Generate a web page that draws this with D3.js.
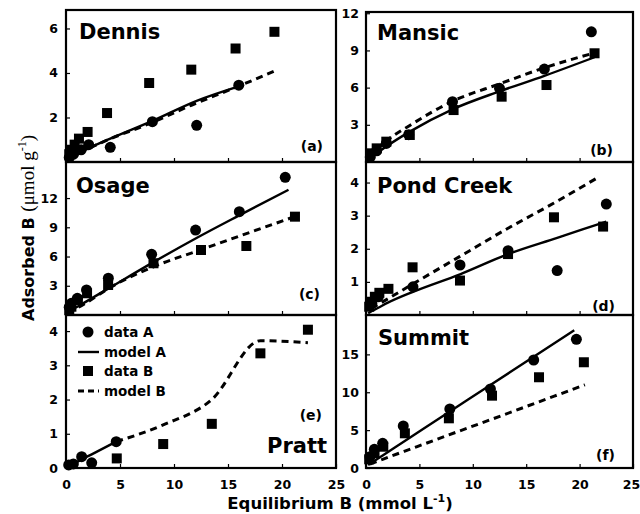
<!DOCTYPE html>
<html>
<head>
<meta charset="utf-8">
<script src="https://cdn.jsdelivr.net/npm/d3@7"></script>
<style>
  body { margin: 0; background: #fff; }
  svg text { font-family: "DejaVu Sans", sans-serif; font-weight: bold; fill: #000; }
</style>
</head>
<body>
<div id="chart"></div>
<script>
// values: [equilibrium B, adsorbed B]
const dennisDataA = [[0.3,0.2],[0.7,0.35],[1.4,0.55],[2.1,0.78],[4.1,0.66],[8.0,1.81],[12.1,1.65],[16.0,3.45]];
const dennisDataB = [[0.3,0.35],[0.5,0.55],[0.8,0.78],[1.2,1.05],[2.0,1.35],[3.8,2.2],[7.7,3.55],[11.6,4.15],[15.7,5.1],[19.3,5.85]];
const dennisModelA = [[0.3,0.12],[0.7,0.25],[1.4,0.45],[2.1,0.62],[4.1,1.05],[8.0,1.85],[12.1,2.75],[16.0,3.4]];
const dennisModelB = [[0.3,0.1],[0.5,0.18],[0.8,0.28],[1.2,0.38],[2.0,0.58],[3.8,0.98],[7.7,1.72],[11.6,2.55],[15.7,3.35],[19.6,4.15]];

const mansicDataA = [[0.4,0.4],[1.0,0.9],[1.9,1.5],[4.0,2.2],[8.1,4.86],[12.5,5.94],[16.7,7.5],[21.1,10.5]];
const mansicDataB = [[0.4,0.7],[1.0,1.1],[1.9,1.64],[4.1,2.18],[8.2,4.19],[12.7,5.27],[16.9,6.21],[21.4,8.77]];
const mansicModelA = [[0.2,0.2],[1.0,0.7],[1.9,1.25],[4.1,2.45],[8.1,4.25],[12.5,5.7],[16.7,6.95],[21.4,8.45]];
const mansicModelB = [[0.2,0.3],[1.0,1.0],[1.9,1.7],[4.1,2.95],[8.1,4.9],[12.5,6.3],[16.7,7.6],[21.4,8.8]];

const osageDataA = [[0.3,0.8],[0.5,1.2],[1.05,1.71],[1.9,2.57],[3.92,3.77],[7.93,6.23],[12.0,8.72],[16.05,10.6],[20.3,14.13]];
const osageDataB = [[0.3,0.5],[0.5,0.85],[1.1,1.54],[1.95,2.23],[3.9,3.08],[8.1,5.31],[12.5,6.67],[16.7,7.08],[21.2,10.09]];
const osageModelA = [[0.2,0.3],[0.5,0.5],[1.05,0.85],[1.9,1.4],[3.9,2.7],[7.9,5.3],[12.0,7.85],[16.0,10.2],[20.6,12.85]];
const osageModelB = [[0.2,0.2],[0.5,0.4],[1.1,0.75],[1.95,1.3],[3.9,2.7],[8.1,4.95],[12.5,6.7],[16.7,8.35],[21.2,10.1]];

const pondDataA = [[0.55,0.35],[1.15,0.55],[4.4,0.85],[8.8,1.51],[13.3,1.94],[17.9,1.34],[22.5,3.35]];
const pondDataB = [[0.3,0.25],[0.5,0.4],[0.83,0.55],[1.25,0.67],[2.1,0.79],[4.36,1.44],[8.8,1.04],[13.3,1.84],[17.6,2.95],[22.2,2.67]];
const pondModelA = [[0.2,0.05],[0.55,0.12],[1.15,0.22],[2.1,0.38],[4.4,0.7],[8.8,1.23],[13.3,1.84],[17.9,2.33],[22.5,2.82]];
const pondModelB = [[0.5,0.2],[0.83,0.26],[1.25,0.34],[2.1,0.5],[4.4,0.94],[8.8,1.77],[13.3,2.62],[17.6,3.38],[21.7,4.15]];

const prattDataA = [[0.25,0.09],[0.68,0.12],[1.45,0.33],[2.38,0.15],[4.65,0.77]];
const prattDataB = [[4.7,0.28],[9.0,0.7],[13.5,1.29],[18.0,3.35],[22.4,4.04]];
const prattModelA = [[0.25,0.05],[0.68,0.12],[1.45,0.25],[2.38,0.4],[4.65,0.77]];
const prattModelB = [[4.65,0.77],[9.0,1.26],[13.5,2.0],[18.0,3.72],[22.4,3.66]];

const summitDataA = [[0.37,1.49],[0.78,2.47],[1.56,3.26],[3.49,5.55],[7.85,7.79],[11.65,10.43],[15.7,14.26],[19.7,16.99]];
const summitDataB = [[0.3,1.15],[0.8,1.94],[1.62,2.81],[3.64,4.58],[7.76,6.56],[11.8,9.55],[16.2,11.98],[20.4,13.96]];
const summitModelA = [[0.2,0.4],[0.78,0.93],[1.56,1.65],[3.49,3.43],[7.85,7.45],[11.65,10.96],[15.7,14.69],[19.5,18.2]];
const summitModelB = [[0.37,0.53],[0.8,0.75],[1.62,1.18],[3.64,2.23],[7.76,4.37],[11.8,6.45],[16.2,8.74],[20.5,10.98]];

const soilNames = ["Dennis", "Mansic", "Osage", "Pond Creek", "Pratt", "Summit"];
const panelTags = ["(a)", "(b)", "(c)", "(d)", "(e)", "(f)"];
const xTicks = [0, 5, 10, 15, 20, 25];
const yTickSets = [[2,4,6], [3,6,9,12], [3,6,9,12], [1,2,3,4], [0,1,2,3,4], [0,5,10,15]];
const yMaxes = [6.83, 12.1, 15.7, 4.62, 4.47, 20.2];
const legendLabels = ["data A", "model A", "data B", "model B"];

const width = 640, height = 514;
const cols = [[66, 336], [366, 633]];
const rows = [[[10,162],[162,315],[315,468]], [[12,162],[162,315],[315,468]]];

const series = [
  [dennisDataA, dennisDataB, dennisModelA, dennisModelB],
  [mansicDataA, mansicDataB, mansicModelA, mansicModelB],
  [osageDataA, osageDataB, osageModelA, osageModelB],
  [pondDataA, pondDataB, pondModelA, pondModelB],
  [prattDataA, prattDataB, prattModelA, prattModelB],
  [summitDataA, summitDataB, summitModelA, summitModelB]
];

// name and tag placement per panel
const nameAt = [[79,39,"start"], [377,40,"start"], [76,193,"start"], [377,193,"start"], [327,453,"end"], [378,345,"start"]];
const tagAt = [[323,151], [613,155], [320,299], [615,311], [322,420], [615,460]];

const svg = d3.select("#chart").append("svg")
  .attr("width", width)
  .attr("height", height);

const styleTicks = a => a.selectAll("text")
  .style("font-size", "12.5px")
  .style("font-family", "DejaVu Sans")
  .style("font-weight", "bold");

series.forEach((s, i) => {
  const col = i % 2, row = Math.floor(i / 2);
  const [x0, x1] = cols[col];
  const [y0, y1] = rows[col][row];
  const bottom = row === 2;

  const x = d3.scaleLinear().domain([0, 25]).range([x0, x1]);
  const y = d3.scaleLinear().domain([0, yMaxes[i]]).range([y1, y0]);

  const g = svg.append("g");

  const xAxis = d3.axisBottom(x).tickSizeInner(-4).tickSizeOuter(0).tickPadding(12);
  if (bottom) xAxis.tickValues(xTicks).tickFormat(d3.format("d"));
  else xAxis.tickValues([5, 10, 15, 20]).tickFormat("");
  g.append("g")
    .attr("transform", `translate(0,${y1})`)
    .call(xAxis)
    .call(a => a.select(".domain").remove())
    .call(a => a.selectAll("line").attr("stroke-width", 1.2))
    .call(styleTicks)
    .call(a => a.selectAll("text").filter(d => col === 1 && d === 25).attr("dx", -2));

  g.append("g")
    .attr("transform", `translate(${x0},0)`)
    .call(d3.axisLeft(y).tickValues(yTickSets[i]).tickFormat(d3.format("d"))
      .tickSizeInner(-4).tickSizeOuter(0).tickPadding(col ? 7 : 8))
    .call(a => a.select(".domain").remove())
    .call(a => a.selectAll("line").attr("stroke-width", 1.2))
    .call(styleTicks);

  const line = d3.line()
    .curve(d3.curveMonotoneX)
    .x(d => x(d[0]))
    .y(d => y(d[1]));

  g.append("path")
    .datum(s[2])
    .attr("fill", "none")
    .attr("stroke", "#000")
    .attr("stroke-width", 2.4)
    .attr("d", line);

  g.append("path")
    .datum(s[3])
    .attr("fill", "none")
    .attr("stroke", "#000")
    .attr("stroke-width", 3)
    .attr("stroke-dasharray", "7,5")
    .attr("d", line);

  g.selectAll("circle.a")
    .data(s[0])
    .join("circle")
    .attr("class", "a")
    .attr("cx", d => x(d[0]))
    .attr("cy", d => y(d[1]))
    .attr("r", 5.5)
    .attr("fill", "#000");

  g.selectAll("rect.b")
    .data(s[1])
    .join("rect")
    .attr("class", "b")
    .attr("x", d => x(d[0]) - 5)
    .attr("y", d => y(d[1]) - 5)
    .attr("width", 10)
    .attr("height", 10)
    .attr("fill", "#000");

  g.append("rect")
    .attr("x", x0)
    .attr("y", y0)
    .attr("width", x1 - x0)
    .attr("height", y1 - y0)
    .attr("fill", "none")
    .attr("stroke", "#000")
    .attr("stroke-width", 2.2);

  g.append("text")
    .attr("x", nameAt[i][0])
    .attr("y", nameAt[i][1])
    .attr("text-anchor", nameAt[i][2])
    .style("font-size", "21px")
    .text(soilNames[i]);

  g.append("text")
    .attr("x", tagAt[i][0])
    .attr("y", tagAt[i][1])
    .attr("text-anchor", "end")
    .style("font-size", "14px")
    .text(panelTags[i]);
});

// legend inside panel (e)
const legendRows = [332, 352, 371, 391];
const lg = svg.append("g");
legendLabels.forEach((label, k) => {
  const ly = legendRows[k];
  if (k === 0) lg.append("circle").attr("cx", 88).attr("cy", ly).attr("r", 5.5);
  if (k === 2) lg.append("rect").attr("x", 83).attr("y", ly - 5).attr("width", 10).attr("height", 10);
  if (k === 1 || k === 3) {
    lg.append("line")
      .attr("x1", 78).attr("x2", 99).attr("y1", ly).attr("y2", ly)
      .attr("stroke", "#000")
      .attr("stroke-width", k === 1 ? 2.4 : 3)
      .attr("stroke-dasharray", k === 3 ? "6,4" : null);
  }
  lg.append("text")
    .attr("x", 104)
    .attr("y", ly + 5)
    .style("font-size", "13.5px")
    .text(label);
});

// axis titles
const xt = svg.append("text")
  .attr("x", 340)
  .attr("y", 509)
  .attr("text-anchor", "middle")
  .style("font-size", "16.5px");
xt.append("tspan").text("Equilibrium B (mmol L");
xt.append("tspan").attr("dy", -7).style("font-size", "11px").text("-1");
xt.append("tspan").attr("dy", 7).text(")");

const yt = svg.append("text")
  .attr("transform", "translate(34,228) rotate(-90)")
  .attr("text-anchor", "middle");
yt.append("tspan").style("font-size", "16px").text("Adsorbed B ");
yt.append("tspan").style("font-family", "Liberation Serif, serif").style("font-weight", "normal").style("font-size", "19px").text("(\u03bcmol g");
yt.append("tspan").attr("dy", -8).style("font-family", "Liberation Serif, serif").style("font-weight", "normal").style("font-size", "12px").text("-1");
yt.append("tspan").attr("dy", 8).style("font-family", "Liberation Serif, serif").style("font-weight", "normal").style("font-size", "19px").text(")");
</script>
</body>
</html>
